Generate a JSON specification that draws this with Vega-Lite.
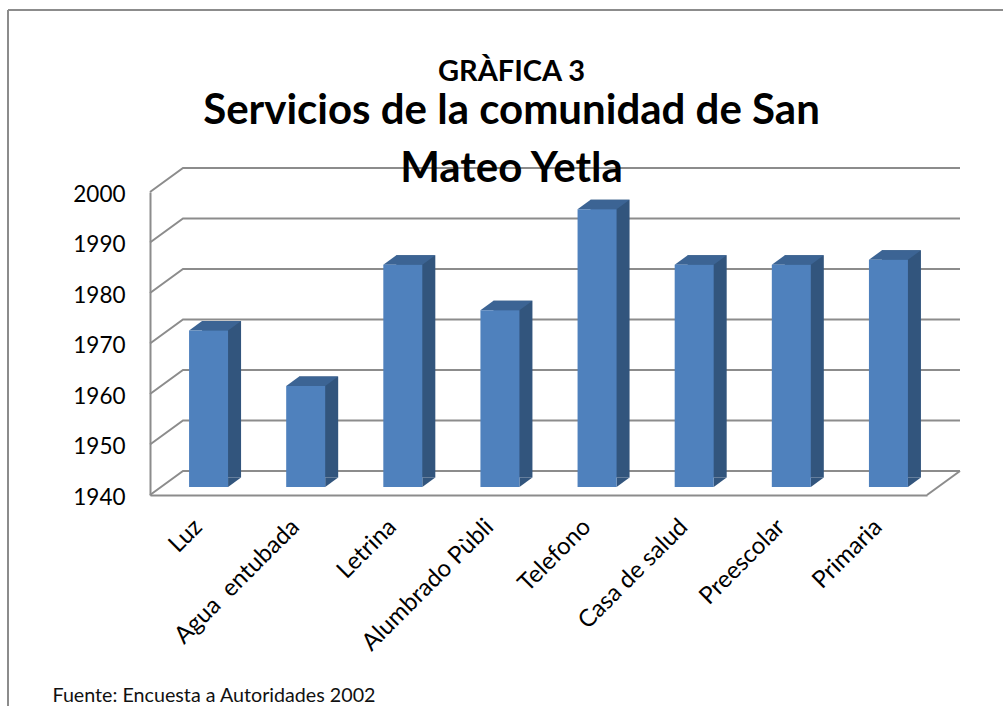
{
"$schema":"https://vega.github.io/schema/vega-lite/v6.json",
"width":777,"height":303,
"autosize":{"type":"none"},
"padding":{"left":150,"top":192,"right":76,"bottom":211},
"background":"white",
"config":{"view":{"stroke":null},"font":"Lato"},
"title":{"text":"GRÀFICA 3","subtitle":["Servicios de la comunidad de San","Mateo Yetla"],"anchor":"middle","dx":-27,"offset":-181,"font":"Lato","fontSize":29,"fontWeight":"bold","color":"#000000","subtitleFont":"Lato","subtitleFontSize":42,"subtitleFontWeight":"bold","subtitleColor":"#000000","subtitleLineHeight":58,"subtitlePadding":4},
"datasets":{
"bars":[{"servicio":"Luz","valor":1971},{"servicio":"Agua \u00a0entubada","valor":1960},{"servicio":"Letrina","valor":1984},{"servicio":"Alumbrado Pùbli","valor":1975},{"servicio":"Telefono","valor":1995},{"servicio":"Casa de salud","valor":1984},{"servicio":"Preescolar","valor":1984},{"servicio":"Primaria","valor":1985}],
"ticks":[{"t":1940},{"t":1950},{"t":1960},{"t":1970},{"t":1980},{"t":1990},{"t":2000}]
},
"layer":[
{"data":{"values":[{"a":1}]},"mark":{"type":"rule","color":"#8c8c8c","strokeWidth":2,"clip":false},"encoding":{"x":{"value":-142},"y":{"value":-182},"y2":{"value":514}}},
{"data":{"values":[{"a":1}]},"mark":{"type":"rule","color":"#8c8c8c","strokeWidth":2,"clip":false},"encoding":{"x":{"value":-142},"x2":{"value":853},"y":{"value":-182}}},
{"data":{"name":"ticks"},"mark":{"type":"point","shape":"M0,0L33,-24L810,-24","size":4,"filled":false,"stroke":"#8c8c8c","strokeWidth":2,"opacity":1},"encoding":{"x":{"datum":"Luz","bandPosition":0,"scale":{"domain":["Luz","Agua \u00a0entubada","Letrina","Alumbrado Pùbli","Telefono","Casa de salud","Preescolar","Primaria"],"paddingInner":0,"paddingOuter":0}},"y":{"field":"t","type":"quantitative","scale":{"domain":[1940,2000]}}}},
{"data":{"values":[{"t":1940}]},"mark":{"type":"point","shape":"M0,0L33,-24","size":4,"filled":false,"stroke":"#8c8c8c","strokeWidth":2,"opacity":1},"encoding":{"x":{"datum":"Primaria","bandPosition":1},"y":{"field":"t","type":"quantitative"}}},
{"data":{"name":"bars"},"mark":{"type":"bar","size":39,"color":"#32557d","xOffset":23,"yOffset":-17.5,"y2Offset":-17.5},"encoding":{"x":{"field":"servicio","type":"nominal","sort":null,"axis":{"title":"Fuente: Encuesta a Autoridades 2002","titleFont":"Lato","titleFontSize":19.7,"titleFontWeight":"normal","titleColor":"#111111","titleAlign":"left","titleAnchor":"start","titleBaseline":"alphabetic","titleX":-98,"titleY":206,"labelAngle":-45,"labelAlign":"right","labelBaseline":"middle","labelFont":"Lato","labelFontSize":24,"labelColor":"#000000","labelPadding":28,"labelOverlap":false,"labelLimit":400,"ticks":false,"domainColor":"#8c8c8c","domainWidth":2,"grid":false}},"y":{"field":"valor","type":"quantitative","axis":{"values":[1940,1950,1960,1970,1980,1990,2000],"title":null,"format":"d","grid":false,"ticks":false,"domainColor":"#8c8c8c","domainWidth":2,"labelFont":"Lato","labelFontSize":22.5,"labelColor":"#000000","labelPadding":25,"labelOffset":2}},"y2":{"datum":1940}}},
{"data":{"name":"bars"},"mark":{"type":"point","shape":"M19.5,0L19.5,-9.5L32.5,-9.5Z","size":4,"filled":true,"color":"#32557d","opacity":1,"xOffset":10,"yOffset":-8},"encoding":{"x":{"field":"servicio","type":"nominal"},"y":{"datum":1940}}},
{"data":{"name":"bars"},"mark":{"type":"point","shape":"M-19.5,0L-6.5,-9.5L32.5,-9.5L19.5,0Z","size":4,"filled":true,"color":"#3c6494","opacity":1,"xOffset":10,"yOffset":-8},"encoding":{"x":{"field":"servicio","type":"nominal"},"y":{"field":"valor","type":"quantitative"}}},
{"data":{"name":"bars"},"mark":{"type":"bar","size":39,"color":"#4f81bd","xOffset":10,"yOffset":-8,"y2Offset":-8},"encoding":{"x":{"field":"servicio","type":"nominal"},"y":{"field":"valor","type":"quantitative"},"y2":{"datum":1940}}}
]
}
